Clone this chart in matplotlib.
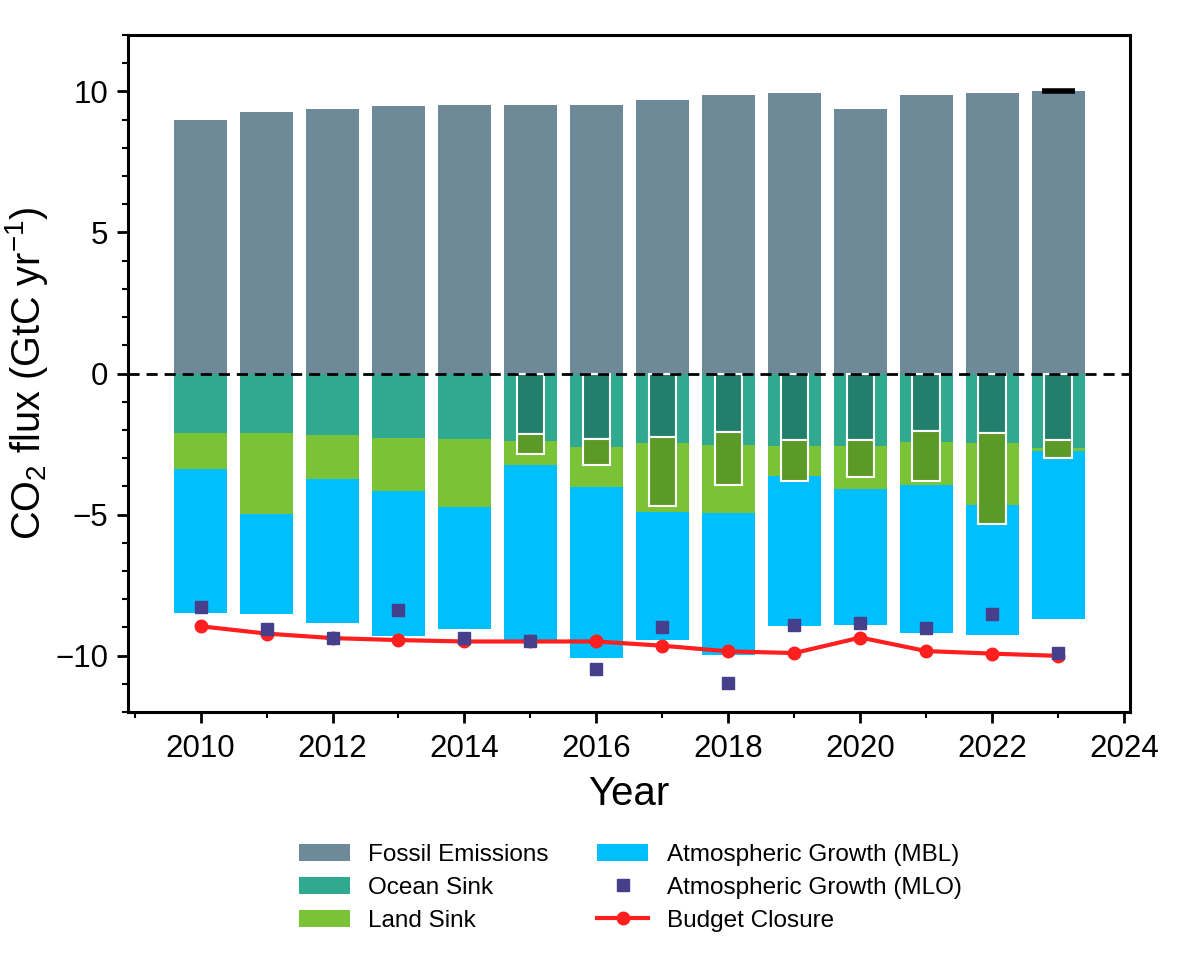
import matplotlib
matplotlib.use("Agg")
import matplotlib.pyplot as plt
from matplotlib.ticker import MultipleLocator
import numpy as np

plt.rcParams['font.family'] = ['Liberation Sans', 'DejaVu Sans']
plt.rcParams['mathtext.fontset'] = 'custom'
plt.rcParams['mathtext.rm'] = 'Liberation Sans'
plt.rcParams['mathtext.it'] = 'Liberation Sans:italic'

# Data (GtC / yr)
years = [2010, 2011, 2012, 2013, 2014, 2015, 2016, 2017, 2018, 2019, 2020, 2021, 2022, 2023]
fossil = [8.98, 9.26, 9.39, 9.47, 9.52, 9.52, 9.52, 9.68, 9.88, 9.93, 9.36, 9.87, 9.96, 10.03]
ocean = [-2.10, -2.12, -2.19, -2.27, -2.31, -2.41, -2.62, -2.48, -2.54, -2.57, -2.58, -2.42, -2.48, -2.63]
land_bottom = [-3.40, -4.97, -3.73, -4.17, -4.73, -3.26, -4.04, -4.91, -4.94, -3.63, -4.08, -3.96, -4.67, -2.75]
atm_bottom = [-8.50, -8.54, -8.83, -9.32, -9.06, -9.45, -10.08, -9.44, -9.99, -8.94, -8.91, -9.20, -9.26, -8.71]

# second estimate of the sinks, 2015 onwards
years_alt = [2015, 2016, 2017, 2018, 2019, 2020, 2021, 2022, 2023]
ocean_alt = [-2.16, -2.32, -2.24, -2.08, -2.37, -2.36, -2.05, -2.10, -2.34]
land_alt_bottom = [-2.87, -3.23, -4.68, -3.94, -3.82, -3.67, -3.80, -5.32, -3.01]

mlo = [-8.29, -9.06, -9.37, -8.39, -9.37, -9.50, -10.49, -8.97, -10.96, -8.92, -8.86, -9.03, -8.52, -9.91]
closure = [-8.96, -9.22, -9.38, -9.45, -9.50, -9.50, -9.50, -9.65, -9.85, -9.91, -9.36, -9.84, -9.93, -10.01]

proj_year = 2023
proj_value = 10.0

# Colours
c_fossil = '#6e8a99'
c_ocean = '#2fa98f'
c_land = '#7bc336'
c_atm = '#00bfff'
c_ocean_dark = '#217f6b'
c_land_dark = '#5c9a27'
c_mlo = '#463f8c'
c_red = '#ff1f1f'

years = np.array(years)
ocean = np.array(ocean)
land_bottom = np.array(land_bottom)
atm_bottom = np.array(atm_bottom)
ocean_alt = np.array(ocean_alt)
land_alt_bottom = np.array(land_alt_bottom)

fig = plt.figure(figsize=(11.96, 9.64), dpi=100)
ax = fig.add_axes([0.107, 0.2614, 0.838, 0.7023])

w = 0.8
ax.bar(years, fossil, width=w, color=c_fossil, label='Fossil Emissions', zorder=2)
ax.bar(years, ocean, width=w, color=c_ocean, label='Ocean Sink', zorder=2)
ax.bar(years, land_bottom - ocean, bottom=ocean, width=w, color=c_land, label='Land Sink', zorder=2)
ax.bar(years, atm_bottom - land_bottom, bottom=land_bottom, width=w, color=c_atm,
       label='Atmospheric Growth (MBL)', zorder=2)

wi = 0.42
ax.bar(years_alt, ocean_alt, width=wi, color=c_ocean_dark, edgecolor='white', linewidth=1.5, zorder=3)
ax.bar(years_alt, land_alt_bottom - ocean_alt, bottom=ocean_alt, width=wi, color=c_land_dark,
       edgecolor='white', linewidth=1.5, zorder=3)

ax.plot(years, mlo, linestyle='none', marker='s', markersize=8, color=c_mlo,
        label='Atmospheric Growth (MLO)', zorder=6)
ax.plot(years, closure, color=c_red, linewidth=3, marker='o', markersize=9,
        label='Budget Closure', zorder=5)

ax.hlines(proj_value, proj_year - 0.25, proj_year + 0.25, color='black', linewidth=4, zorder=4)
ax.axhline(0, color='black', linestyle=(0, (4, 2.5)), linewidth=2, zorder=4)

ax.set_xlim(2008.9, 2024.09)
ax.set_ylim(-12, 12)
ax.xaxis.set_major_locator(MultipleLocator(2))
ax.xaxis.set_minor_locator(MultipleLocator(1))
ax.yaxis.set_major_locator(MultipleLocator(5))
ax.yaxis.set_minor_locator(MultipleLocator(1))
ax.set_yticks([-10, -5, 0, 5, 10])
ax.set_yticklabels(['\u221210', '\u22125', '0', '5', '10'])

for s in ax.spines.values():
    s.set_linewidth(2.2)
ax.tick_params(which='major', length=8, width=2, labelsize=22.5, pad=8)
ax.tick_params(axis='y', which='major', pad=6)
ax.tick_params(which='minor', length=4, width=1.5)

ax.set_xlabel('Year', fontsize=29, labelpad=8)
ax.set_ylabel(r'CO$_2$ flux (GtC yr$^{-1}$)', fontsize=28.5, labelpad=4)

handles, labels = ax.get_legend_handles_labels()
order = ['Fossil Emissions', 'Ocean Sink', 'Land Sink', 'Atmospheric Growth (MBL)',
         'Atmospheric Growth (MLO)', 'Budget Closure']
hd = dict(zip(labels, handles))
fig.legend([hd[k] for k in order], order, loc='upper center', bbox_to_anchor=(0.527, 0.147),
           ncol=2, frameon=False, fontsize=17.5, handlelength=2.1, handletextpad=0.75,
           columnspacing=2.0, labelspacing=0.44)

fig.savefig('out.png', dpi=100)
